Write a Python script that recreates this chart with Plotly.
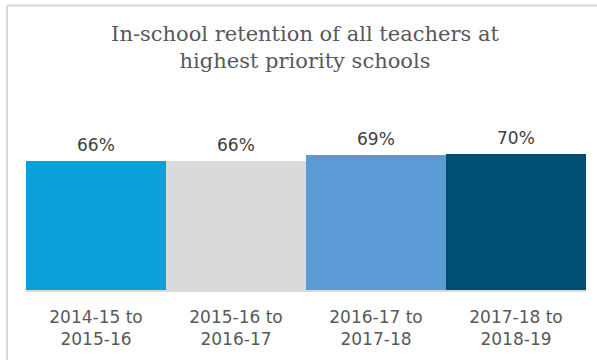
import plotly.graph_objects as go

categories = ["2014-15 to<br>2015-16", "2015-16 to<br>2016-17", "2016-17 to<br>2017-18", "2017-18 to<br>2018-19"]
values = [66, 66, 69, 70]
labels = ["66%", "66%", "69%", "70%"]
colors = ["#0CA0DB", "#D9DADC", "#5B9BD5", "#004F73"]

W, H = 597, 360
ml, mr, mt, mb = 26, 11, 95, 67
pw = W - ml - mr
ph = H - mt - mb

def px(x):
    return (x - ml) / pw

def py(y):
    return (H - mb - y) / ph

fig = go.Figure()
fig.add_trace(go.Bar(
    x=categories, y=values,
    marker=dict(color=colors, line=dict(width=0)),
    hoverinfo="skip",
))

for c, v, t in zip(categories, values, labels):
    fig.add_annotation(
        x=c, y=v, text=t, showarrow=False,
        xanchor="center", yanchor="bottom", yshift=4,
        font=dict(family="DejaVu Sans, sans-serif", size=17, color="#404040"),
    )

fig.update_layout(
    width=W, height=H,
    margin=dict(l=ml, r=mr, t=mt, b=mb),
    paper_bgcolor="white", plot_bgcolor="white",
    bargap=0,
    showlegend=False,
    title=dict(
        text="In-school retention of all teachers at<br>highest priority schools",
        x=305 / W, xanchor="center",
        y=1 - 41 / H, yanchor="top",
        font=dict(family="DejaVu Serif, serif", size=21, color="#595959"),
    ),
    xaxis=dict(
        showgrid=False, zeroline=False,
        showline=True, linecolor="#D9D9D9", linewidth=1.5,
        ticks="", ticklabelstandoff=11,
        tickfont=dict(family="DejaVu Sans, sans-serif", size=17, color="#595959"),
    ),
    yaxis=dict(range=[0, 100], visible=False),
    shapes=[
        dict(type="line", xref="paper", yref="paper",
             x0=px(7), x1=px(7), y0=py(4), y1=py(H + 5),
             line=dict(color="#D9D9D9", width=2)),
        dict(type="line", xref="paper", yref="paper",
             x0=px(7), x1=px(W + 5), y0=py(4), y1=py(4),
             line=dict(color="#D9D9D9", width=2)),
    ],
)

fig.write_html("out.html")
